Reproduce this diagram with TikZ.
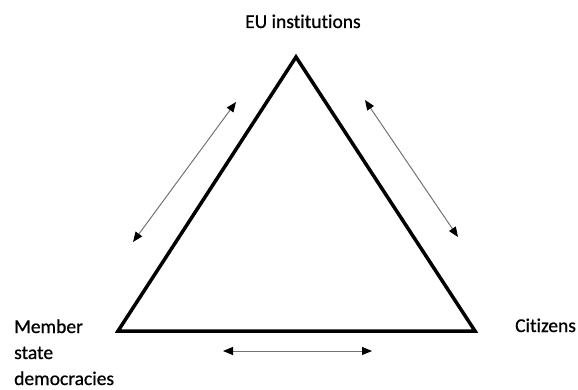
\documentclass[tikz,border=0pt]{standalone}
\usepackage{fontspec}
\setmainfont{Carlito}[Ligatures=NoCommon,FakeBold=0.8]
\usetikzlibrary{arrows.meta}
\begin{document}
\begin{tikzpicture}[x=1pt,y=-1pt,
  lbl/.style={anchor=base west,inner sep=0pt,font=\fontsize{19.5}{26}\selectfont},
  tri/.style={line width=3.5pt,line join=miter},
  rel/.style={draw=black!55,line width=1pt,{Triangle[length=10pt,width=8pt,fill=black,color=black]}-{Triangle[length=10pt,width=8pt,fill=black,color=black]}}]
\useasboundingbox (0,0) rectangle (578,390);
\coordinate (eu) at (296,57);
\coordinate (ms) at (118,331);
\coordinate (ci) at (475,331);
\draw[tri] (eu) -- (ci) -- (ms) -- cycle;
\node[lbl] (teu) at (245,28) {EU institutions};
\node[lbl] (tci) at (515,332) {Citizens};
\node[lbl] (tms) at (14,333) {Member};
\node[lbl] (tms2) at (14,359) {state};
\node[lbl] (tms3) at (14,385) {democracies};
\coordinate (l1) at (236,102);
\coordinate (l2) at (133,242);
\coordinate (r1) at (365,100);
\coordinate (r2) at (458,237);
\coordinate (b1) at (223,351);
\coordinate (b2) at (372,351);
\draw[rel] (l1) -- (l2);
\draw[rel] (r1) -- (r2);
\draw[rel] (b1) -- (b2);
\end{tikzpicture}
\end{document}
